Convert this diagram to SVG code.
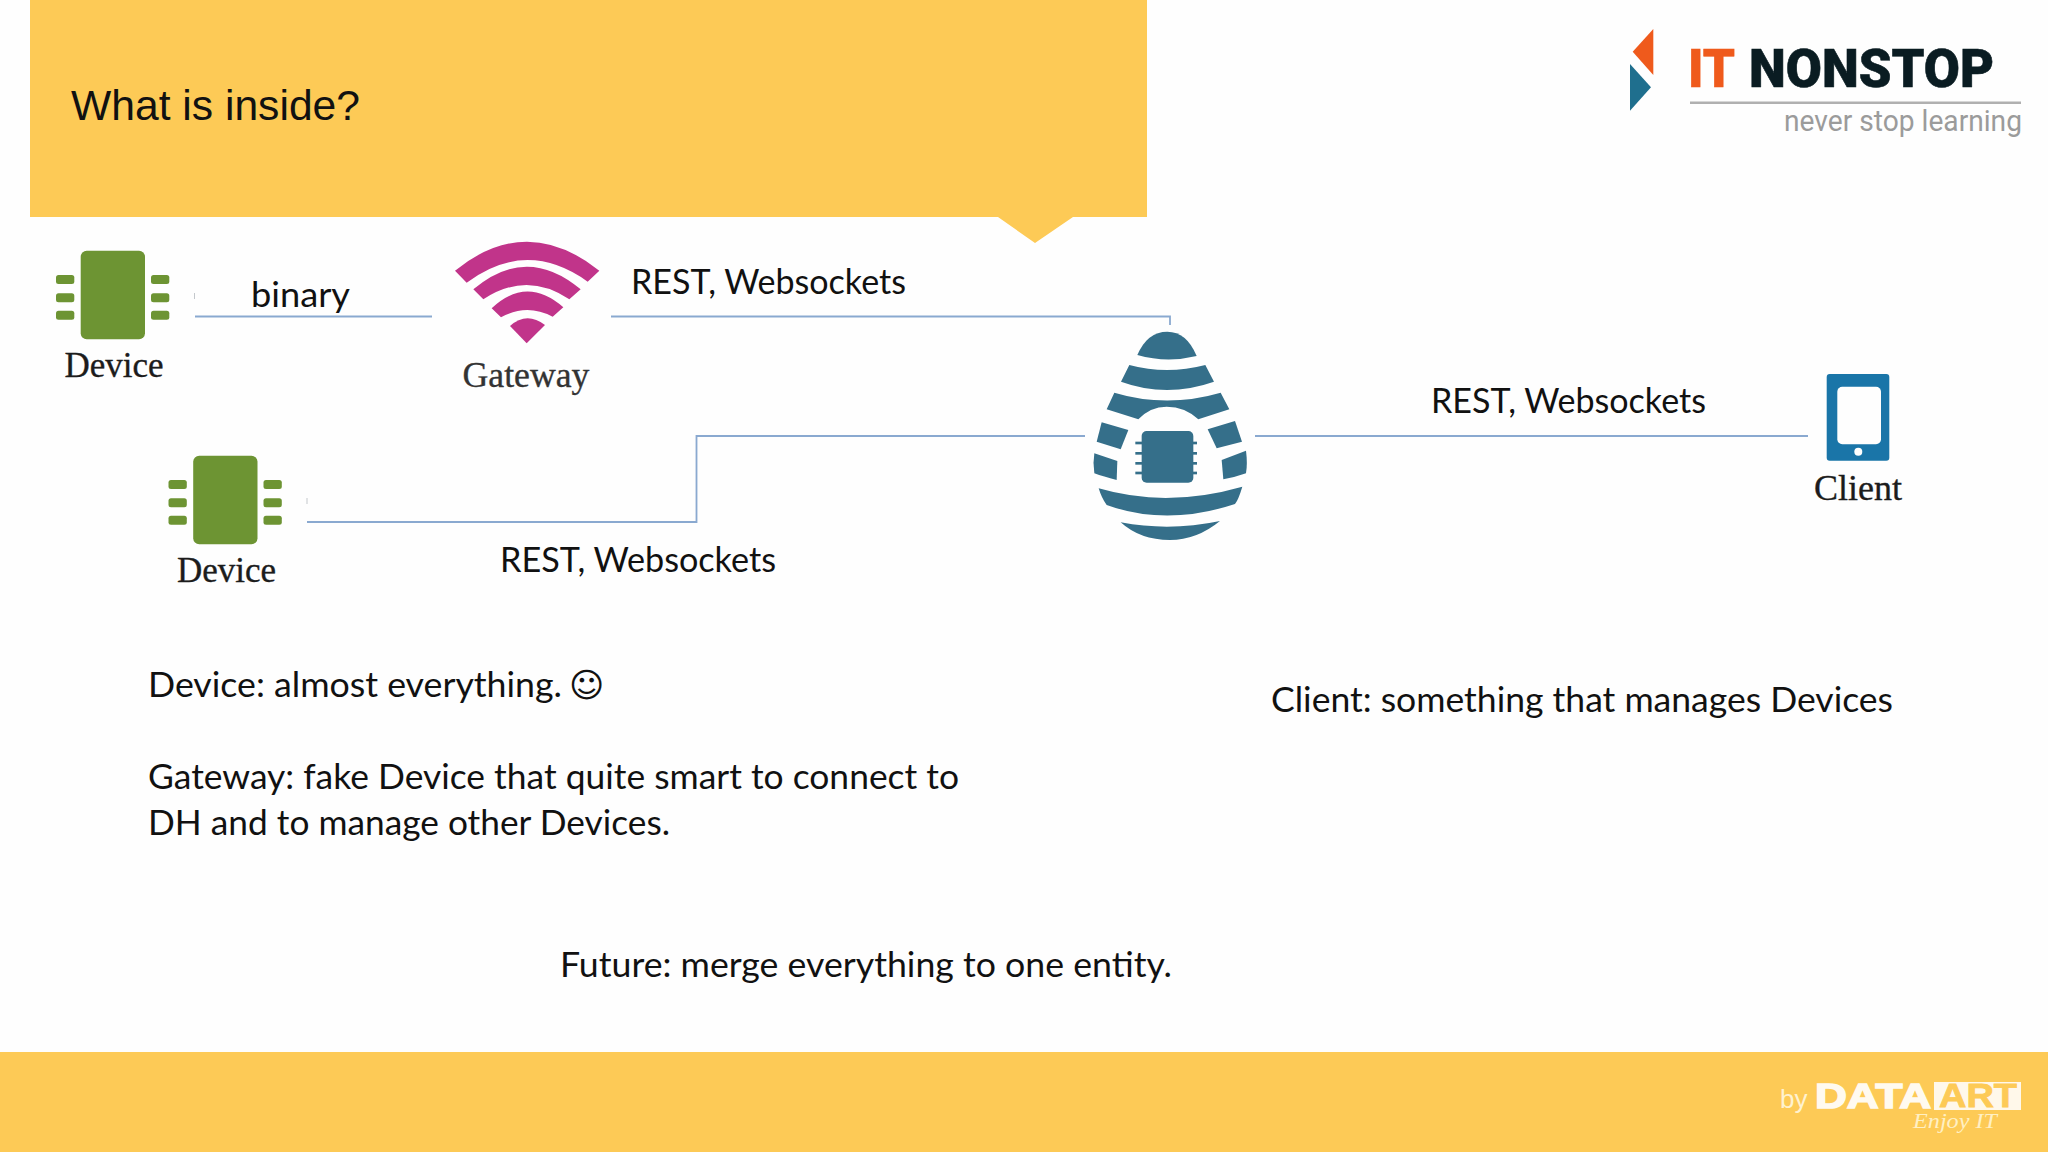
<svg xmlns="http://www.w3.org/2000/svg" width="2048" height="1152" viewBox="0 0 2048 1152">
<style>
.lbl{font-family:"Lato","Open Sans",sans-serif;font-size:35px;fill:#111}
.cap{font-family:"Liberation Serif",serif;font-size:35px;fill:#1c1c1c;stroke:#1c1c1c;stroke-width:.35;text-anchor:middle}
.wire{fill:none;stroke:#8aa9d0;stroke-width:1.8}
.tick{fill:none;stroke:#c4c8cc;stroke-width:1}
.g{fill:#6d9433}
.hive{fill:#356f8a}
.wifi{fill:#c1348a}
</style>
<defs>
<g id="chip">
<rect class="g" x="80.700" y="250.700" width="64.300" height="88.600" rx="6"/>
<rect class="g" x="56" y="275" width="18.300" height="9" rx="2.500"/><rect class="g" x="56" y="293.300" width="18.300" height="9" rx="2.500"/><rect class="g" x="56" y="310.700" width="18.300" height="9" rx="2.500"/>
<rect class="g" x="151" y="275" width="18.300" height="9" rx="2.500"/><rect class="g" x="151" y="293.300" width="18.300" height="9" rx="2.500"/><rect class="g" x="151" y="310.700" width="18.300" height="9" rx="2.500"/>
</g>
</defs>
<rect width="2048" height="1152" fill="#fefefe"/>
<g id="header">
<path d="M30 0H1147V217H1073L1035 243L998 217H30Z" fill="#fdca56"/>
<text x="71" y="120" font-family="Liberation Sans, sans-serif" font-size="43" fill="#111" textLength="289" lengthAdjust="spacingAndGlyphs">What is inside?</text>
</g>
<g id="footer">
<rect y="1052" width="2048" height="100" fill="#fdca56"/>
<text x="1780" y="1108" font-family="Liberation Sans, sans-serif" font-size="26" fill="#fff2d0">by</text>
<text x="1815" y="1108" font-family="Liberation Sans, sans-serif" font-weight="bold" font-size="35" fill="#fffaf0" stroke="#fffaf0" stroke-width="1.5" textLength="116" lengthAdjust="spacingAndGlyphs">DATA</text>
<rect x="1934" y="1082" width="87" height="28" fill="#fff8ea"/>
<text x="1939" y="1107" font-family="Liberation Sans, sans-serif" font-weight="bold" font-size="33" fill="#fdca56" stroke="#fdca56" stroke-width=".8" textLength="78" lengthAdjust="spacingAndGlyphs">ART</text>
<text x="1913" y="1128" font-family="Liberation Serif, serif" font-style="italic" font-size="20" fill="#fff0c4" textLength="84" lengthAdjust="spacingAndGlyphs">Enjoy IT</text>
</g>
<g id="logo">
<path d="M1653.300 29L1632.700 51.700L1653.300 75Z" fill="#ef5a1c"/>
<path d="M1630 64L1651 87.300L1630 110.700Z" fill="#1f6f8e"/>
<text x="1688" y="87" font-family="Roboto, sans-serif" font-weight="900" font-size="54" fill="#ef5a1c" stroke="#ef5a1c" stroke-width=".6" textLength="47" lengthAdjust="spacingAndGlyphs">IT</text>
<text x="1749" y="87" font-family="Roboto, sans-serif" font-weight="900" font-size="54" fill="#0a1c22" stroke="#0a1c22" stroke-width=".6" textLength="245" lengthAdjust="spacingAndGlyphs">NONSTOP</text>
<rect x="1690" y="101.500" width="331" height="2.500" fill="#b0b0b0"/>
<text x="1784" y="131" font-family="Roboto, sans-serif" font-size="30" fill="#9b9b9b" textLength="238" lengthAdjust="spacingAndGlyphs">never stop learning</text>
</g>
<g id="connectors">
<path class="wire" d="M195 316.500H432"/>
<path class="wire" d="M611 316.500H1170V325"/>
<path class="wire" d="M307 522H696.500V436H1085"/>
<path class="wire" d="M1255 436H1808"/>
<path class="tick" d="M194.500 293V299"/>
<path class="tick" d="M307 498V504"/>
</g>
<g id="device-1">
<use href="#chip"/>
<text class="cap" x="114" y="377">Device</text>
</g>
<g id="device-2">
<use href="#chip" x="112.500" y="205"/>
<text class="cap" x="226.500" y="582">Device</text>
</g>
<g id="gateway">
<g class="wifi" transform="translate(440 230) scale(.33333)">
<path d="M45 122Q260 -52 478 122L443 155Q260 24 80 158Z"/>
<path d="M100 178Q260 42 422 178L388 208Q260 122 130 208Z"/>
<path d="M155 235Q260 136 370 232L338 260Q260 219 183 262Z"/>
<path d="M210 288Q260 243 315 285L260 340Z"/>
</g>
<text class="cap" x="526" y="387" style="font-size:35.700px;fill:#333;stroke:#333">Gateway</text>
</g>
<g id="devicehive">
<g class="hive" transform="translate(1060 300) scale(.33333)">
<path d="M232 165Q262 95 322 95Q380 95 410 168Q320 190 232 165Z"/>
<path d="M208 195Q320 225 436 195L462 245Q320 295 183 245Z"/>
<path d="M163 278Q320 325 482 278L508 328L415 358Q375 320 320 320Q270 320 235 358L140 328Z"/>
<path d="M125 367L205 390L182 448L110 425Z"/>
<path d="M443 388L525 363L546 425L470 445Z"/>
<path d="M103 460L172 483L170 540Q130 530 103 520Q98 490 103 460Z"/>
<path d="M485 480L558 452Q563 490 558 520Q525 532 490 538Z"/>
<path d="M116 565Q320 625 547 560Q535 600 525 612Q320 680 140 615Q125 595 116 565Z"/>
<path d="M182 667Q330 695 480 663Q410 720 330 720Q240 720 182 667Z"/>
<rect x="245" y="393" width="155" height="155" rx="15"/>
<rect x="226" y="425" width="20" height="8"/><rect x="226" y="456" width="20" height="8"/><rect x="226" y="486" width="20" height="8"/><rect x="226" y="515" width="20" height="8"/>
<rect x="399" y="425" width="12" height="8"/><rect x="399" y="456" width="12" height="8"/><rect x="399" y="486" width="12" height="8"/><rect x="399" y="515" width="12" height="8"/>
</g>
</g>
<g id="client">
<rect x="1826.700" y="374" width="62.600" height="86.700" rx="3" fill="#1a75a8"/>
<rect x="1837.300" y="386.700" width="43.700" height="57.600" rx="5" fill="#fefefe"/>
<circle cx="1858.300" cy="451.700" r="4" fill="#fefefe"/>
<text class="cap" x="1858" y="500" style="font-size:36px">Client</text>
</g>
<g id="labels">
<text class="lbl" x="251" y="307" textLength="99" lengthAdjust="spacingAndGlyphs">binary</text>
<text class="lbl" x="631" y="293.500" textLength="275" lengthAdjust="spacingAndGlyphs">REST, Websockets</text>
<text class="lbl" x="1431" y="413" textLength="275" lengthAdjust="spacingAndGlyphs">REST, Websockets</text>
<text class="lbl" x="500" y="572" textLength="276" lengthAdjust="spacingAndGlyphs">REST, Websockets</text>
<text class="lbl" x="148" y="697"><tspan textLength="414" lengthAdjust="spacingAndGlyphs">Device: almost everything.</tspan> <tspan x="569" font-family="DejaVu Sans, sans-serif" font-size="34">☺</tspan></text>
<text class="lbl" x="148" y="789" textLength="811" lengthAdjust="spacingAndGlyphs">Gateway: fake Device that quite smart to connect to</text>
<text class="lbl" x="148" y="835" textLength="522" lengthAdjust="spacingAndGlyphs">DH and to manage other Devices.</text>
<text class="lbl" x="560" y="977" textLength="612" lengthAdjust="spacingAndGlyphs">Future: merge everything to one entity.</text>
<text class="lbl" x="1271" y="712" textLength="622" lengthAdjust="spacingAndGlyphs">Client: something that manages Devices</text>
</g>
</svg>
